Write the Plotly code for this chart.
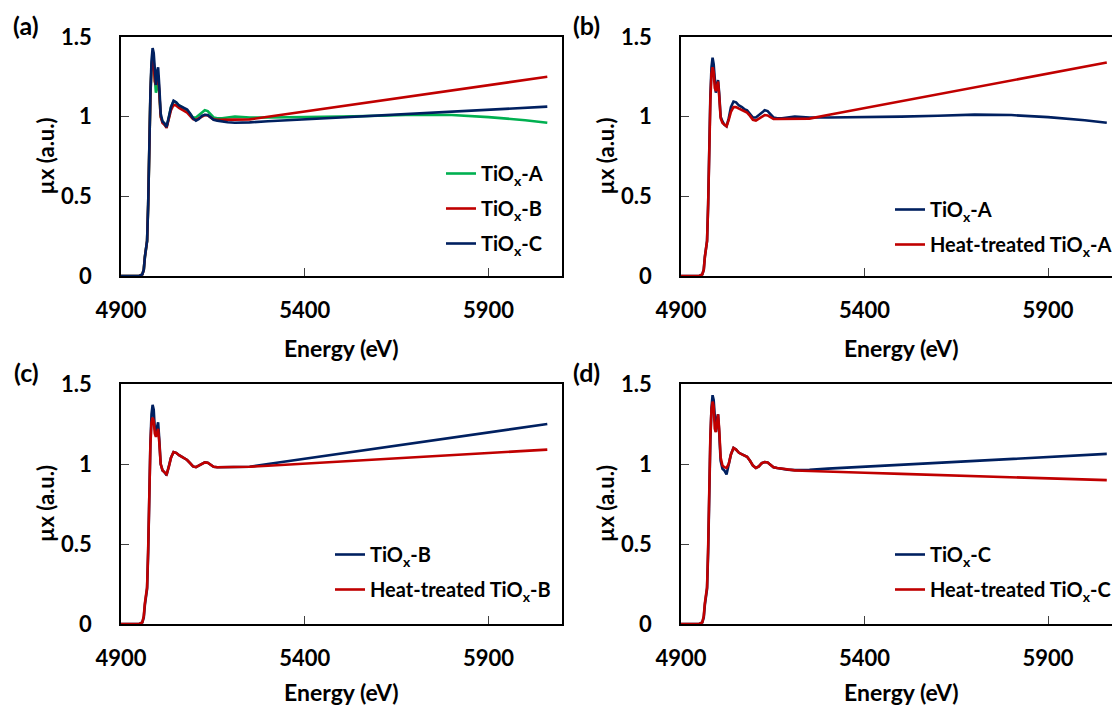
import plotly.graph_objects as go

# ---------------- data ----------------
energy = [4900, 4950, 4958, 4962, 4965, 4968, 4971, 4974, 4977, 4980,
          4983, 4986, 4989, 4992, 4995, 4998, 5001, 5004, 5008, 5013,
          5018, 5024, 5030, 5036, 5043, 5050, 5058, 5066, 5074, 5080,
          5088, 5096, 5104, 5112, 5120, 5128, 5136, 5144, 5152, 5162,
          5175, 5190, 5210, 5230, 5250, 5300, 5400, 5500, 5600, 5700,
          5800, 5900, 6000, 6060]

tiox_a = [0, 0, 0.01, 0.04, 0.12, 0.18, 0.22, 0.45, 0.85, 1.13,
          1.31, 1.37, 1.33, 1.20, 1.15, 1.19, 1.23, 1.15, 1.00, 0.97,
          0.95, 0.94, 0.99, 1.06, 1.095, 1.09, 1.07, 1.06, 1.045, 1.04,
          1.02, 0.995, 0.995, 1.01, 1.03, 1.04, 1.035, 1.015, 0.995, 0.99,
          0.99, 0.995, 1.0, 0.998, 0.995, 0.995, 0.997, 1.0, 1.006, 1.013,
          1.01, 0.997, 0.978, 0.962]

tiox_b = [0, 0, 0.01, 0.04, 0.12, 0.18, 0.22, 0.45, 0.85, 1.13,
          1.31, 1.37, 1.34, 1.22, 1.20, 1.24, 1.26, 1.16, 1.00, 0.96,
          0.95, 0.93, 0.98, 1.04, 1.075, 1.07, 1.055, 1.045, 1.03, 1.025,
          1.005, 0.985, 0.98, 0.99, 1.005, 1.01, 1.008, 0.995, 0.983, 0.98,
          0.98, 0.98, 0.98, 0.98, 0.983, 1.0, 1.033, 1.066, 1.098, 1.131,
          1.164, 1.197, 1.230, 1.25]

tiox_c = [0, 0, 0.01, 0.04, 0.12, 0.18, 0.22, 0.45, 0.85, 1.15,
          1.35, 1.43, 1.40, 1.25, 1.20, 1.28, 1.31, 1.20, 1.02, 0.97,
          0.96, 0.935, 0.99, 1.06, 1.10, 1.09, 1.07, 1.06, 1.05, 1.045,
          1.02, 0.99, 0.975, 0.985, 1.005, 1.012, 1.01, 0.995, 0.98, 0.975,
          0.97, 0.965, 0.962, 0.962, 0.964, 0.971, 0.983, 0.995, 1.007, 1.019,
          1.031, 1.043, 1.055, 1.063]

heat_a = [0, 0, 0.01, 0.04, 0.12, 0.18, 0.22, 0.45, 0.84, 1.10,
          1.27, 1.31, 1.28, 1.18, 1.16, 1.20, 1.22, 1.13, 0.99, 0.96,
          0.95, 0.94, 0.98, 1.03, 1.06, 1.06, 1.05, 1.04, 1.03, 1.025,
          1.005, 0.98, 0.975, 0.985, 1.0, 1.01, 1.008, 0.995, 0.985, 0.985,
          0.985, 0.985, 0.985, 0.986, 0.988, 1.010, 1.053, 1.097, 1.140, 1.184,
          1.227, 1.270, 1.314, 1.34]

heat_b = [0, 0, 0.01, 0.05, 0.13, 0.19, 0.23, 0.47, 0.86, 1.12,
          1.26, 1.29, 1.27, 1.19, 1.17, 1.20, 1.22, 1.14, 1.00, 0.96,
          0.95, 0.935, 0.98, 1.04, 1.075, 1.07, 1.055, 1.045, 1.03, 1.025,
          1.005, 0.985, 0.98, 0.99, 1.005, 1.01, 1.008, 0.995, 0.983, 0.98,
          0.98, 0.98, 0.98, 0.98, 0.983, 0.989, 1.003, 1.016, 1.029, 1.042,
          1.056, 1.069, 1.082, 1.09]

heat_c = [0, 0, 0.01, 0.05, 0.13, 0.19, 0.23, 0.48, 0.88, 1.17,
          1.34, 1.39, 1.36, 1.22, 1.20, 1.28, 1.31, 1.22, 1.04, 0.99,
          0.98, 0.975, 1.00, 1.06, 1.10, 1.09, 1.07, 1.06, 1.05, 1.045,
          1.02, 0.99, 0.975, 0.985, 1.005, 1.012, 1.01, 0.995, 0.98, 0.975,
          0.97, 0.965, 0.96, 0.958, 0.956, 0.952, 0.945, 0.938, 0.931, 0.924,
          0.917, 0.910, 0.903, 0.899]

x_ticks = [4900, 5400, 5900]
y_ticks = [0, 0.5, 1, 1.5]
y_tick_text = ["0", "0.5", "1", "1.5"]

# ---------------- styling ----------------
OFF = 8                      # page body margin
W, H = 1120 - OFF, 706 - OFF
GREEN, RED, NAVY = "#00B050", "#C00000", "#002060"
FONT = "Lato"


def fx(p):
    return (p - OFF) / W


def fy(p):
    return 1 - (p - OFF) / H


panels = [
    dict(label="(a)", x0=121, x1=562, y0=37, y1=276, xr=[4900, 6100],
         legend_xy=(441, 154), title_dy=72,
         series=[("TiO<sub>x</sub>-A", tiox_a, GREEN),
                 ("TiO<sub>x</sub>-B", tiox_b, RED),
                 ("TiO<sub>x</sub>-C", tiox_c, NAVY)]),
    dict(label="(b)", x0=681, x1=1120, y0=37, y1=276, xr=[4900, 6096],
         legend_xy=(890, 190), title_dy=72,
         series=[("TiO<sub>x</sub>-A", tiox_a, NAVY),
                 ("Heat-treated TiO<sub>x</sub>-A", heat_a, RED)]),
    dict(label="(c)", x0=121, x1=562, y0=384, y1=624, xr=[4900, 6100],
         legend_xy=(330, 535), title_dy=68,
         series=[("TiO<sub>x</sub>-B", tiox_b, NAVY),
                 ("Heat-treated TiO<sub>x</sub>-B", heat_b, RED)]),
    dict(label="(d)", x0=681, x1=1120, y0=384, y1=624, xr=[4900, 6096],
         legend_xy=(890, 535), title_dy=68,
         series=[("TiO<sub>x</sub>-C", tiox_c, NAVY),
                 ("Heat-treated TiO<sub>x</sub>-C", heat_c, RED)]),
]

fig = go.Figure()
annotations = []
layout = {}

for i, p in enumerate(panels):
    n = "" if i == 0 else str(i + 1)
    leg = "legend" if i == 0 else f"legend{i + 1}"
    for k, (name, vals, col) in enumerate(p["series"]):
        fig.add_trace(go.Scatter(
            x=energy, y=vals, mode="lines", name=name,
            line=dict(color=col, width=2.6),
            xaxis=f"x{n}", yaxis=f"y{n}", legend=leg,
            legendgroup=f"{i}-{k}", hoverinfo="skip"))

    common = dict(showline=True, linecolor="black", linewidth=1.5, mirror=True,
                  ticks="inside", ticklen=8, tickcolor="#404040", tickwidth=1.2,
                  showgrid=False, zeroline=False, automargin=False,
                  tickfont=dict(family=FONT, size=22, color="black", weight="bold"))
    layout[f"xaxis{n}"] = dict(common, domain=[fx(p["x0"]), fx(p["x1"])],
                               range=p["xr"], tickvals=x_ticks,
                               anchor=f"y{n}", ticklabelstandoff=14)
    layout[f"yaxis{n}"] = dict(common, domain=[fy(p["y1"]), fy(p["y0"])],
                               range=[0, 1.5], tickvals=y_ticks,
                               ticktext=y_tick_text,
                               anchor=f"x{n}", ticklabelstandoff=23)
    lx, ly = p["legend_xy"]
    layout[leg] = dict(x=fx(lx), y=fy(ly), xanchor="left", yanchor="top",
                       bgcolor="rgba(0,0,0,0)", borderwidth=0,
                       tracegroupgap=6, itemwidth=30,
                       font=dict(family=FONT, size=20, color="black", weight="bold"))

    xc = (p["x0"] + (1122 if p["x1"] == 1120 else p["x1"])) / 2
    annotations.append(dict(text="Energy (eV)", x=fx(xc),
                            y=fy(p["y1"] + p["title_dy"]), xref="paper", yref="paper",
                            showarrow=False, xanchor="center", yanchor="middle",
                            font=dict(family=FONT, size=23, color="black", weight="bold")))
    annotations.append(dict(text="µx (a.u.)", x=fx(p["x0"] - 76),
                            y=fy((p["y0"] + p["y1"]) / 2), xref="paper", yref="paper",
                            showarrow=False, textangle=-90, xanchor="center", yanchor="middle",
                            font=dict(family=FONT, size=22, color="black", weight="bold")))
    annotations.append(dict(text=p["label"], x=fx(p["x0"] - 95),
                            y=fy(p["y0"] - 12), xref="paper", yref="paper",
                            showarrow=False, xanchor="center", yanchor="middle",
                            font=dict(family=FONT, size=25, color="black", weight="bold")))

fig.update_layout(**layout)
fig.update_layout(width=W, height=H,
                  margin=dict(l=0, r=0, t=0, b=0, pad=0, autoexpand=False),
                  paper_bgcolor="white", plot_bgcolor="white",
                  annotations=annotations, showlegend=True)

fig.write_html("out.html")
